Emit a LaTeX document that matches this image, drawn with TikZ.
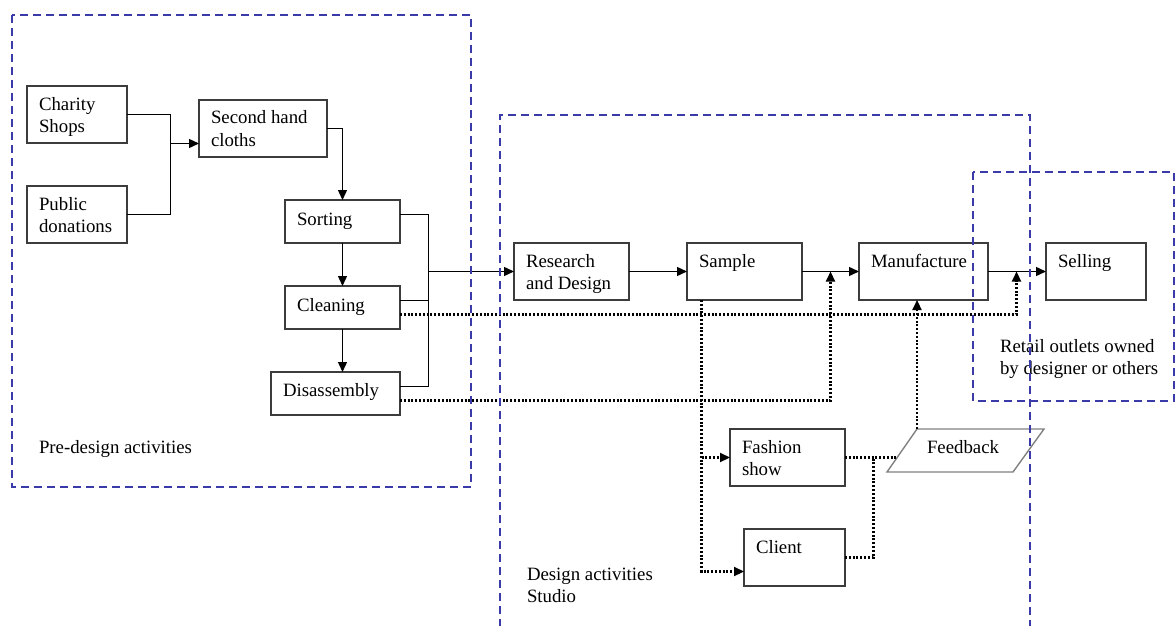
\documentclass[tikz,border=0pt]{standalone}
\usepackage{fontspec}
\setmainfont{Liberation Serif}
\usetikzlibrary{arrows.meta}
\definecolor{regionblue}{RGB}{58,58,168}
\definecolor{boxgray}{RGB}{60,60,60}
% #7 = vertical offset of the baseline of the LAST text line from the box top
\newcommand\mkbox[7]{%
  \node[boxst, minimum width=#4pt, minimum height=#5pt, anchor=north west] (#1) at (#2,#3) {};
  \node[txt, anchor=base west] (#1-t) at ([shift={(12,#7)}]#1.north west) {#6};}
\begin{document}
\begin{tikzpicture}[x=1pt,y=-1pt,
  boxst/.style={draw=boxgray, line width=1.4pt, inner sep=0pt, outer sep=0pt},
  txt/.style={inner sep=0pt, outer sep=0pt, align=left, font=\fontsize{18.8}{22}\selectfont},
  conn/.style={line width=1.4pt, black},
  arr/.style={-{Triangle[length=10pt,width=9pt]}},
  dotl/.style={line width=2.2pt, dash pattern=on 2pt off 1.8pt, black},
  region/.style={draw=regionblue, line width=2.2pt, dash pattern=on 8pt off 5pt},
  fbst/.style={draw=gray, line width=1.4pt}]
\useasboundingbox (0,0) rectangle (1176,626);
% boxes
\mkbox{charity}{27}{86}{100}{57}{Charity\\Shops}{46}
\mkbox{public}{27}{186}{100}{57}{Public\\donations}{46}
\mkbox{second}{199}{100}{128}{57}{Second hand\\cloths}{46}
\mkbox{sorting}{285}{200}{115}{43}{Sorting}{25}
\mkbox{cleaning}{285}{286}{115}{43}{Cleaning}{25}
\mkbox{disasm}{271}{372}{129}{43}{Disassembly}{24}
\mkbox{research}{514}{243}{115}{57}{Research\\and Design}{46}
\mkbox{sample}{687}{243}{115}{57}{Sample}{24}
\mkbox{manuf}{859}{243}{129}{57}{Manufacture}{24}
\mkbox{selling}{1046}{243}{100}{57}{Selling}{24}
\mkbox{fashion}{730}{429}{115}{57}{Fashion\\show}{46}
\mkbox{client}{744}{529}{101}{57}{Client}{24}
% feedback parallelogram
\draw[fbst] (887,472) coordinate (fbbl) -- (917,429) coordinate (fbtl) -- (1044,429) coordinate (fbtr) -- (1013,472) coordinate (fbbr) -- cycle;
\node[txt, anchor=base west] (feedback) at (927,453) {Feedback};
\coordinate (fbl) at (897,457.5);
% labels
\node[txt, anchor=base west] (prelabel) at (39,453) {Pre-design activities};
\node[txt, anchor=base west] (designlabel) at (527,602) {Design activities\\Studio};
\node[txt, anchor=base west] (retaillabel) at (1000,374) {Retail outlets owned\\by designer or others};
% solid connectors
\coordinate (j1) at (170.5,143.5);
\draw[conn] (charity.east) -| (j1);
\draw[conn] (public.east) -| (j1);
\draw[conn,arr] (j1) -- (j1 -| second.west);
\draw[conn,arr] (second.east) -| (sorting.north);
\draw[conn,arr] (sorting.south) -- (cleaning.north);
\draw[conn,arr] (cleaning.south) -- (cleaning.south |- disasm.north);
\coordinate (bus) at (428.5,271.5);
\draw[conn] ([yshift=-14.5pt]sorting.north east) -| (bus) |- ([yshift=-14.5pt]disasm.north east);
\draw[conn] ([yshift=-14.5pt]cleaning.north east) -- ++(28.5,0);
\draw[conn,arr] (bus) -- (research.west);
\draw[conn,arr] (research.east) -- (sample.west);
\draw[conn,arr] (sample.east) -- (manuf.west);
\draw[conn,arr] (manuf.east) -- (selling.west);
% dotted connectors
\coordinate (m1) at (830.5,271.5);
\coordinate (m2) at (1016.5,271.5);
\draw[dotl,arr] ([yshift=14.5pt]cleaning.south east) -| (m2);
\draw[dotl,arr] ([yshift=14.5pt]disasm.south east) -| (m1);
\coordinate (sdrop) at ([xshift=14.5pt]sample.south west);
\draw[dotl,arr] (sdrop) |- ([yshift=14.5pt]client.south west);
\draw[dotl,arr] (sdrop |- fashion.west) -- (fashion.west);
\draw[dotl] (fashion.east) -- (fbl);
\coordinate (j2) at (873.5,457.5);
\draw[dotl] (client.east) -| (j2);
\draw[dotl,arr] (fbtl) -- (fbtl |- manuf.south);
% regions
\draw[region] (12,15) rectangle (471,487);
\draw[region] (500,640) |- (1030,115) -- (1030,640);
\draw[region] (973,172) rectangle (1174,401);
\end{tikzpicture}
\end{document}
